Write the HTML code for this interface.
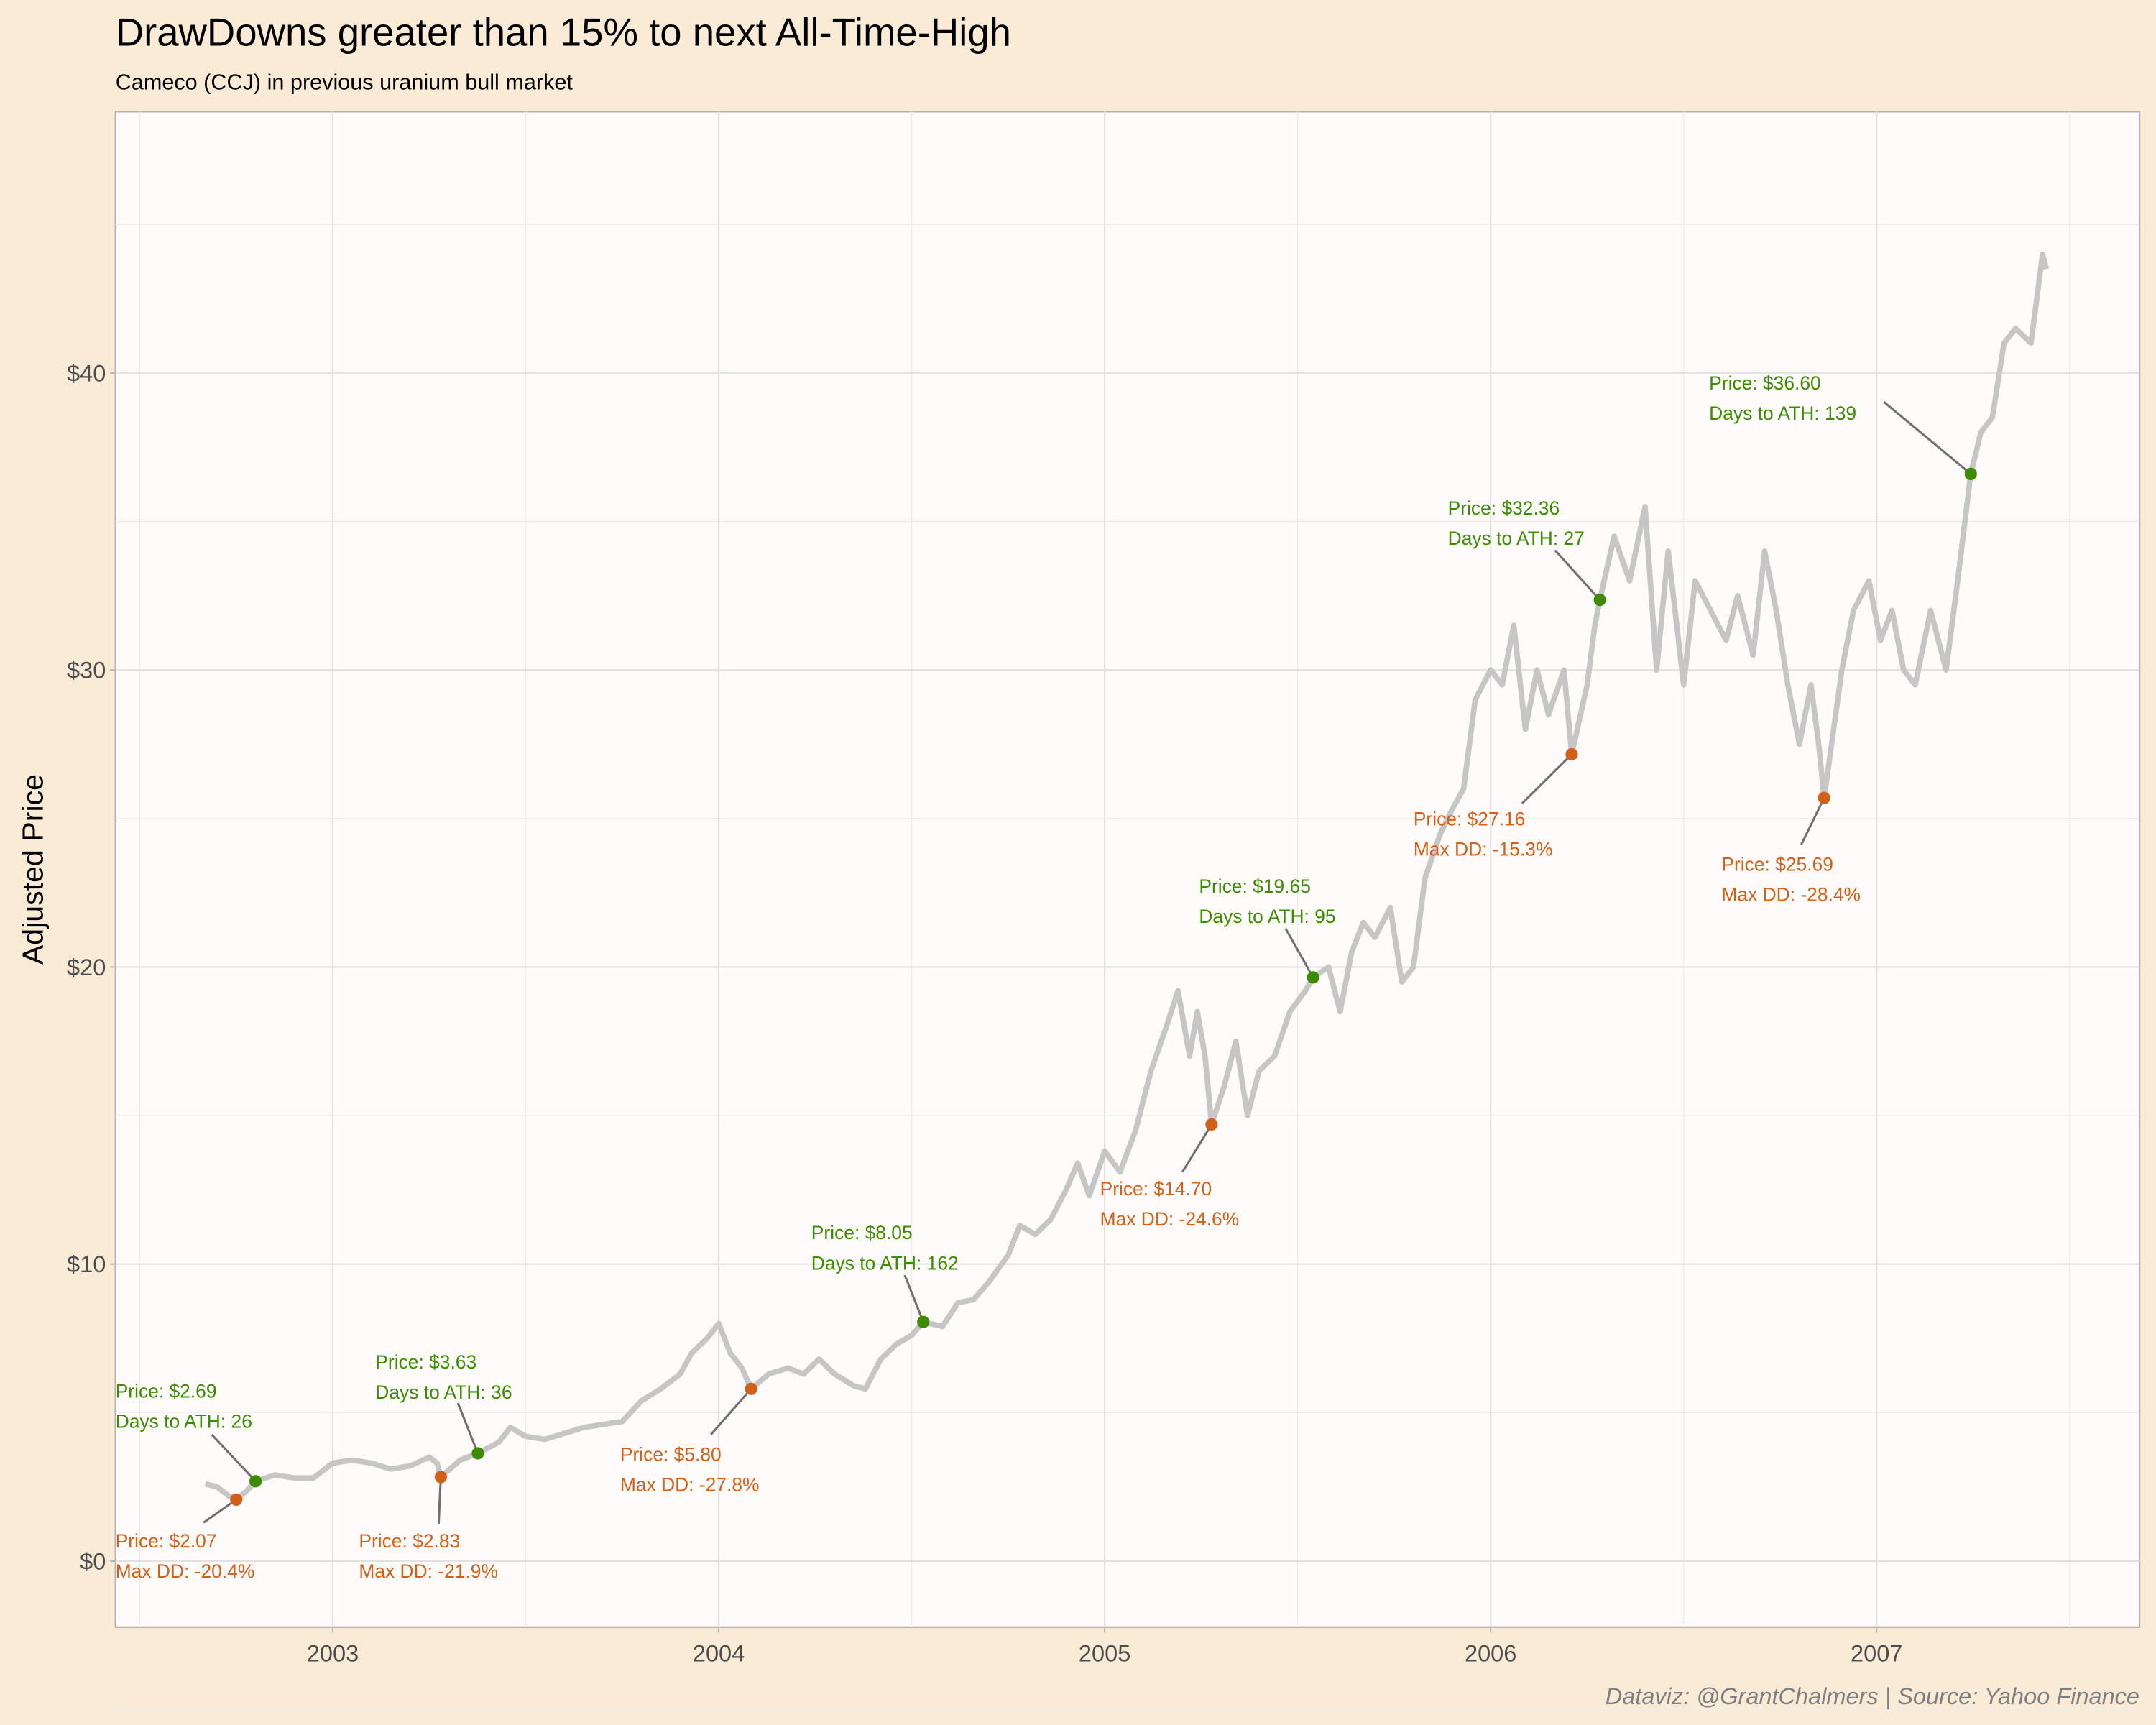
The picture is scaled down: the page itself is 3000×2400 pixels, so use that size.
<!DOCTYPE html>
<html><head><meta charset="utf-8">
<style>
html,body{margin:0;padding:0;background:#faebd7;}
svg{display:block;font-family:"Liberation Sans",sans-serif;}
</style></head>
<body>
<svg id="chart" width="3000" height="2400" viewBox="0 0 1568 1254" xmlns="http://www.w3.org/2000/svg">
<rect x="0" y="0" width="1568" height="1254" fill="#faebd7"/>
<text x="84" y="33" font-size="28.5" fill="#000">DrawDowns greater than 15% to next All-Time-High</text>
<text x="84" y="65" font-size="16" fill="#000">Cameco (CCJ) in previous uranium bull market</text>
<rect x="84" y="81" width="1472" height="1102" fill="#fffbfa" stroke="#b3b3b3" stroke-width="1.2"/>
<g id="grid"></g>
<g id="series"></g>
<g id="annot"></g>
<g id="axes"></g>
<text transform="translate(31,632) rotate(-90)" text-anchor="middle" font-size="21.5" fill="#000">Adjusted Price</text>
<text x="1556" y="1239" text-anchor="end" font-size="17" font-style="italic" fill="#7f7f7f">Dataviz: @GrantChalmers | Source: Yahoo Finance</text>
</svg>
<script>
const dates = [2002.67,2002.70,2002.73,2002.75,2002.78,2002.80,2002.85,2002.90,2002.95,2003.00,2003.05,2003.10,2003.15,2003.20,2003.25,2003.27,2003.28,2003.33,2003.376,2003.43,2003.46,2003.50,2003.55,2003.60,2003.65,2003.70,2003.75,2003.80,2003.85,2003.90,2003.93,2003.97,2004.00,2004.03,2004.06,2004.084,2004.13,2004.18,2004.22,2004.26,2004.30,2004.35,2004.38,2004.42,2004.46,2004.50,2004.53,2004.58,2004.62,2004.66,2004.70,2004.75,2004.78,2004.82,2004.86,2004.90,2004.93,2004.96,2005.00,2005.04,2005.08,2005.12,2005.16,2005.19,2005.22,2005.24,2005.26,2005.277,2005.31,2005.34,2005.37,2005.40,2005.44,2005.48,2005.52,2005.54,2005.58,2005.61,2005.64,2005.67,2005.70,2005.74,2005.77,2005.80,2005.83,2005.87,2005.90,2005.93,2005.96,2006.00,2006.03,2006.06,2006.09,2006.12,2006.15,2006.19,2006.21,2006.25,2006.27,2006.283,2006.32,2006.36,2006.40,2006.43,2006.46,2006.50,2006.53,2006.57,2006.61,2006.64,2006.68,2006.71,2006.74,2006.77,2006.80,2006.83,2006.85,2006.864,2006.91,2006.94,2006.98,2007.01,2007.04,2007.07,2007.10,2007.14,2007.18,2007.21,2007.244,2007.27,2007.30,2007.33,2007.36,2007.40,2007.43,2007.44];
const prices = [2.6,2.5,2.2,2.07,2.4,2.69,2.9,2.8,2.8,3.3,3.4,3.3,3.1,3.2,3.5,3.3,2.83,3.4,3.63,4.0,4.5,4.2,4.1,4.3,4.5,4.6,4.7,5.4,5.8,6.3,7.0,7.5,8.0,7.0,6.5,5.80,6.3,6.5,6.3,6.8,6.3,5.9,5.8,6.8,7.3,7.6,8.05,7.9,8.7,8.8,9.4,10.3,11.3,11.0,11.5,12.5,13.4,12.3,13.8,13.1,14.5,16.5,18.0,19.2,17.0,18.5,17.0,14.70,16.0,17.5,15.0,16.5,17.0,18.5,19.2,19.65,20.0,18.5,20.5,21.5,21.0,22.0,19.5,20.0,23.0,24.5,25.3,26.0,29.0,30.0,29.5,31.5,28.0,30.0,28.5,30.0,27.16,29.5,31.5,32.36,34.5,33.0,35.5,30.0,34.0,29.5,33.0,32.0,31.0,32.5,30.5,34.0,32.0,29.5,27.5,29.5,27.5,25.69,30.0,32.0,33.0,31.0,32.0,30.0,29.5,32.0,30.0,33.0,36.60,38.0,38.5,41.0,41.5,41.0,44.0,43.5];
const ddDates = [2002.75,2003.28,2004.084,2005.277,2006.21,2006.864];
const ddPrices = [2.07,2.83,5.80,14.70,27.16,25.69];
const ddPct = ["-20.4%","-21.9%","-27.8%","-24.6%","-15.3%","-28.4%"];
const athDates = [2002.80,2003.376,2004.53,2005.54,2006.283,2007.244];
const athPrices = [2.69,3.63,8.05,19.65,32.36,36.60];
const athDays = [26,36,162,95,27,139];
const yTicks = [0,10,20,30,40];
const yTickLabels = ["$0","$10","$20","$30","$40"];
const xTicks = [2003,2004,2005,2006,2007];
const xTickLabels = ["2003","2004","2005","2006","2007"];

const NS="http://www.w3.org/2000/svg";
const X = d => 242 + (d-2003)*280.7;
const Y = v => 1135 - v*21.6;
function mk(tag, attrs, parent){const e=document.createElementNS(NS,tag);for(const k in attrs)e.setAttribute(k,attrs[k]);parent.appendChild(e);return e;}
const grid=document.getElementById('grid'), axes=document.getElementById('axes'), ser=document.getElementById('series'), ann=document.getElementById('annot');
for(let v=-5;v<=45;v+=10){const l=mk('line',{x1:84,x2:1556,y1:Y(v),y2:Y(v),stroke:'#ebebeb','stroke-width':0.6},grid);

}
for(let d=2002.5;d<=2007.5;d+=1){const l=mk('line',{x1:X(d),x2:X(d),y1:81,y2:1183,stroke:'#ebebeb','stroke-width':0.6},grid);

}
yTicks.forEach((v,i)=>{
 const l=mk('line',{x1:84,x2:1556,y1:Y(v),y2:Y(v),stroke:'#e0e0e0','stroke-width':1.1},grid);
 
 
 const t=mk('line',{x1:80,x2:84,y1:Y(v),y2:Y(v),stroke:'#b3b3b3','stroke-width':1},axes);
 
 
 const tx=mk('text',{x:77,y:Y(v)+6,'text-anchor':'end','font-size':17,fill:'#4d4d4d'},axes);tx.textContent=yTickLabels[i];
 
 
});
xTicks.forEach((d,i)=>{
 const l=mk('line',{x1:X(d),x2:X(d),y1:81,y2:1183,stroke:'#e0e0e0','stroke-width':1.1},grid);
 
 
 const t=mk('line',{x1:X(d),x2:X(d),y1:1183,y2:1187,stroke:'#b3b3b3','stroke-width':1},axes);
 
 
 const tx=mk('text',{x:X(d),y:1208,'text-anchor':'middle','font-size':17,fill:'#4d4d4d'},axes);tx.textContent=xTickLabels[i];
 
 
});
const pl=mk('polyline',{points:dates.map((d,i)=>X(d)+','+Y(prices[i])).join(' '),fill:'none',stroke:'#c6c6c6','stroke-width':4,'stroke-linejoin':'round'},ser);



const ddLayout=[[84,1125,148,1107],[261,1125,319,1108],[451,1062,517,1043],[800,869,860,852],[1028,600,1107,584],[1252,633,1310,614]];
const athLayout=[[84,1016,154,1043],[273,995,333,1020],[590,901,658,927],[872,649,935,675],[1053,374,1131,400],[1243,283,1370,292]];
const GREEN='#3c8b00', ORANGE='#d2601a';
function annotate(dlist,plist,layout,color,l2,name){
 dlist.forEach((d,i)=>{
  const px=X(d),py=Y(plist[i]),L=layout[i];
  const s=mk('line',{x1:L[2],y1:L[3],x2:px,y2:py,stroke:'#707070','stroke-width':1.6},ann);
  
  
  const c=mk('circle',{cx:px,cy:py,r:4.5,fill:color},ann);
  
  
  const t1=mk('text',{x:L[0],y:L[1],'font-size':13.8,fill:color},ann);t1.textContent='Price: $'+plist[i].toFixed(2);
  
  
  const t2=mk('text',{x:L[0],y:L[1]+22,'font-size':13.8,fill:color},ann);t2.textContent=l2(i);
  
  
 });
}
annotate(ddDates,ddPrices,ddLayout,ORANGE,i=>'Max DD: '+ddPct[i],'drawdown');
annotate(athDates,athPrices,athLayout,GREEN,i=>'Days to ATH: '+athDays[i],'ath');
</script>
</body></html>
